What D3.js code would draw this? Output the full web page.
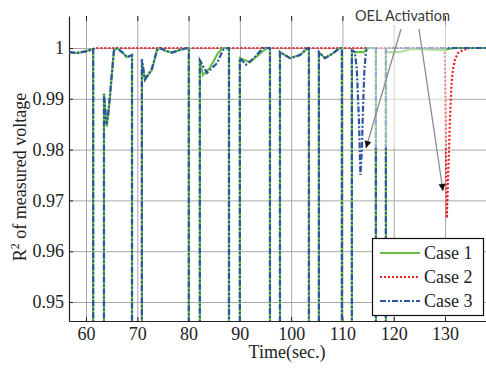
<!DOCTYPE html>
<html><head><meta charset="utf-8">
<script src="https://cdn.jsdelivr.net/npm/d3@7"></script>
<style>body{margin:0;background:#fff}svg{display:block}</style>
</head><body><svg id="chart" width="486" height="369"></svg>
<script>
const xTicks = [60,70,80,90,100,110,120,130];
const yTicks = [0.95,0.96,0.97,0.98,0.99,1];
const yTickLabels = ["0.95","0.96","0.97","0.98","0.99","1"];
const seriesNames = ["Case 1","Case 2","Case 3"];

// [time, R^2]
const case1 = [
 [56.7,0.9992],[58.2,0.999],[60.2,0.9994],[61.4,0.9998],[61.4,0.9],[63.5,0.9],
 [63.5,0.991],[64.04,0.9845],[64.29,0.9864],[64.68,0.9904],[65.07,0.9951],[65.46,0.9996],[66.04,1],[67.02,0.9992],[67.99,0.9982],[68.97,0.9986],[68.97,0.9],[70.9,0.9],
 [70.9,0.997],[71.5,0.9937],[72.87,0.9957],[73.84,0.9996],[74.42,1],[75.6,0.9994],[76.76,0.9991],[78.3,0.9996],[79.7,1],[80.05,1],[80.05,0.9],[82.2,0.9],
 [82.2,0.9976],[82.81,0.9947],[84.17,0.9961],[85.73,0.999],[86.71,1],[87.88,1],[87.88,0.9],[90.0,0.9],
 [90.0,0.998],[91.97,0.9972],[93.33,0.9984],[95.28,1],[95.87,1],[95.87,0.9],[97.82,0.9],
 [97.82,0.9992],[99.77,0.998],[101.72,0.9986],[103.27,1],[103.47,1],[103.47,0.9],[105.42,0.9],
 [105.42,0.9992],[106.6,0.998],[107.9,0.9988],[109.5,1],[109.9,1],[109.9,0.9],[111.85,0.9],
 [111.85,0.9992],[114.2,0.9992],[114.8,1],[116.53,1],[116.53,0.9],[118.48,0.9],
 [118.48,0.9992],[121.2,0.9992],[123.55,0.9998],[129.6,0.9996],[131.9,1],[138,1]
];
const case2 = [
 [56.7,0.9992],[58.2,0.999],[60.2,0.9994],[61.4,0.9998],[62.2,1],[129.95,1],
 [130.15,0.982],[130.35,0.9665],[130.6,0.974],[130.8,0.98],[130.96,0.9858],[131.29,0.9931],
 [131.54,0.9957],[131.93,0.9976],[132.51,0.999],[133.49,0.9996],[134.85,1],[138,1]
];
const case3 = [
 [56.7,0.9992],[58.2,0.999],[60.2,0.9994],[61.4,0.9998],[61.4,0.9],[63.5,0.9],
 [63.5,0.991],[63.84,0.9868],[64.0,0.985],[64.3,0.9868],[64.68,0.9908],[65.07,0.9953],[65.46,0.9996],[66.04,1],[67.02,0.9992],[67.99,0.9982],[68.97,0.9986],[68.97,0.9],[70.9,0.9],
 [70.9,0.9978],[71.5,0.9938],[72.87,0.996],[73.84,0.9996],[74.42,1],[75.6,0.9994],[76.76,0.9991],[78.3,0.9996],[79.7,1],[80.05,1],[80.05,0.9],[82.2,0.9],
 [82.2,0.9976],[83.59,0.9951],[85.54,0.997],[86.71,0.9996],[87.68,1],[87.88,1],[87.88,0.9],[90.0,0.9],
 [90.0,0.998],[91.19,0.9967],[92.7,0.998],[94.5,1],[95.87,1],[95.87,0.9],[97.82,0.9],
 [97.82,0.9992],[99.77,0.998],[101.72,0.9986],[103.27,1],[103.47,1],[103.47,0.9],[105.42,0.9],
 [105.42,0.9992],[106.6,0.998],[107.9,0.9988],[109.5,1],[109.9,1],[109.9,0.9],[111.85,0.9],
 [111.85,0.9996],[112.43,0.9992],[112.82,0.9957],[113.22,0.9858],[113.51,0.975],[113.8,0.9799],[114.0,0.9878],[114.29,0.9957],[114.58,0.9992],[114.97,1],[116.53,1],[116.53,0.9],[118.48,0.9],
 [118.48,1],[138,1]
];

const L = 69, T = 16, R = 486, B = 321;
const serif = "'Liberation Serif','Times New Roman',serif";
const svg = d3.select("#chart");
const x = d3.scaleLinear().domain([56.685, 138]).range([L, R]);
const y = d3.scaleLinear().domain([0.946260, 1.0063]).range([B, T]);

// grid
svg.append("g").attr("transform", `translate(0,${B})`)
  .call(d3.axisBottom(x).tickValues(xTicks).tickSize(-(B - T)).tickFormat(""))
  .call(g => g.select(".domain").remove())
  .call(g => g.selectAll("line").attr("stroke", "#a8a8a8"));
svg.append("g").attr("transform", `translate(${L},0)`)
  .call(d3.axisLeft(y).tickValues(yTicks).tickSize(-(R - L)).tickFormat(""))
  .call(g => g.select(".domain").remove())
  .call(g => g.selectAll("line").attr("stroke", "#a8a8a8"));

// top ticks
svg.append("g").attr("transform", `translate(0,${T})`)
  .call(d3.axisTop(x).tickValues(xTicks).tickSize(-5).tickFormat(""))
  .call(g => g.select(".domain").remove())
  .call(g => g.selectAll("line").attr("stroke", "#222"));

// axes
const ax = svg.append("g").attr("transform", `translate(0,${B})`)
  .call(d3.axisBottom(x).tickValues(xTicks).tickSizeInner(-4).tickSizeOuter(0).tickPadding(6));
const ay = svg.append("g").attr("transform", `translate(${L},0)`)
  .call(d3.axisLeft(y).tickValues(yTicks).tickSizeInner(-4).tickSizeOuter(0).tickPadding(5)
    .tickFormat((d, i) => yTickLabels[i]));
[ax, ay].forEach(g => {
  g.selectAll("text").attr("font-family", serif).attr("font-size", 18).attr("fill", "#222");
  g.select(".domain").attr("stroke", "#222").attr("stroke-width", 1.2);
  g.selectAll(".tick line").attr("stroke", "#222");
});

// data lines
svg.append("clipPath").attr("id", "clip").append("rect")
  .attr("x", L).attr("y", T).attr("width", R - L).attr("height", B - T);
const line = d3.line().x(d => x(d[0])).y(d => y(d[1]));
const styles = [
  {data: case2, color: "#ee1d23", dash: "2,2", w: 2.2},
  {data: case1, color: "#66c043", dash: null, w: 2.2},
  {data: case3, color: "#2e52a4", dash: "6,2,2,2", w: 2.2}
];
const plot = svg.append("g").attr("clip-path", "url(#clip)");
styles.forEach(s => {
  plot.append("path").datum(s.data).attr("d", line)
    .attr("fill", "none").attr("stroke", s.color).attr("stroke-width", s.w)
    .attr("stroke-dasharray", s.dash);
});

// annotation overlay
svg.append("rect").attr("x", 367).attr("y", 26).attr("width", 79).attr("height", 122)
  .attr("fill", "#fff").attr("opacity", 0.5);
svg.append("rect").attr("x", 350).attr("y", 0).attr("width", 90).attr("height", 25)
  .attr("fill", "#fff");
svg.append("text").attr("x", 355).attr("y", 20.5).text("OEL Activation")
  .attr("font-family", "Lato,'Open Sans',sans-serif").attr("font-size", 16)
  .attr("textLength", 95).attr("lengthAdjust", "spacingAndGlyphs").attr("fill", "#3a3a3a");
const arrows = [[[401, 29], [366, 148]], [[419, 29], [443, 191]]];
arrows.forEach(([a, b]) => {
  svg.append("line").attr("x1", a[0]).attr("y1", a[1]).attr("x2", b[0]).attr("y2", b[1])
    .attr("stroke", "#8c8c8c").attr("stroke-width", 1.3);
  const ang = Math.atan2(b[1] - a[1], b[0] - a[0]) * 180 / Math.PI;
  svg.append("path").attr("d", "M0,0 L-7,-3.5 L-7,3.5 Z").attr("fill", "#111")
    .attr("transform", `translate(${b[0]},${b[1]}) rotate(${ang})`);
});

// axis titles
const yl = svg.append("text").attr("transform", "translate(26,177) rotate(-90)")
  .attr("text-anchor", "middle").attr("font-family", serif).attr("font-size", 18).attr("fill", "#222");
yl.append("tspan").text("R");
yl.append("tspan").text("2").attr("font-size", 12).attr("dy", -7);
yl.append("tspan").text(" of measured voltage").attr("dy", 7);
svg.append("text").attr("x", 287).attr("y", 358).attr("text-anchor", "middle")
  .attr("font-family", serif).attr("font-size", 18).attr("fill", "#222").text("Time(sec.)");

// legend
const lg = svg.append("g");
lg.append("rect").attr("x", 372.5).attr("y", 238.5).attr("width", 111).attr("height", 77)
  .attr("fill", "#fff").attr("stroke", "#111").attr("stroke-width", 1.2);
const legendOrder = [styles[1], styles[0], styles[2]];
seriesNames.forEach((name, i) => {
  const yy = 253 + i * 24;
  const s = legendOrder[i];
  lg.append("line").attr("x1", 380).attr("x2", 420).attr("y1", yy).attr("y2", yy)
    .attr("stroke", s.color).attr("stroke-width", 2.2).attr("stroke-dasharray", s.dash);
  lg.append("text").attr("x", 424).attr("y", yy).attr("dy", "0.35em").text(name)
    .attr("font-family", serif).attr("font-size", 18).attr("fill", "#222");
});
</script></body></html>
